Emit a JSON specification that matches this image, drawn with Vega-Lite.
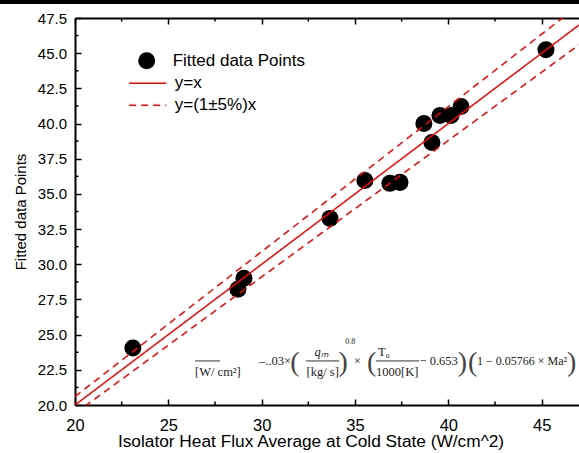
{
  "$schema": "https://vega.github.io/schema/vega-lite/v6.json",
  "width": 504,
  "height": 387,
  "autosize": {"type": "none"},
  "padding": {"left": 75, "top": 18, "right": 0, "bottom": 48},
  "background": "white",
  "config": {"view": {"stroke": null}, "font": "Liberation Sans", "axis": {"tickColor": "black", "domainColor": "black", "labelColor": "black", "titleColor": "black", "grid": false}},
  "datasets": {
    "points": [
      {"series": "Fitted data Points", "x": 23.1, "y": 24.05},
      {"series": "Fitted data Points", "x": 28.73, "y": 28.22},
      {"series": "Fitted data Points", "x": 29.05, "y": 29.0},
      {"series": "Fitted data Points", "x": 33.66, "y": 33.26},
      {"series": "Fitted data Points", "x": 35.53, "y": 35.96},
      {"series": "Fitted data Points", "x": 36.87, "y": 35.75},
      {"series": "Fitted data Points", "x": 37.41, "y": 35.82},
      {"series": "Fitted data Points", "x": 38.69, "y": 40.0},
      {"series": "Fitted data Points", "x": 39.12, "y": 38.65},
      {"series": "Fitted data Points", "x": 39.55, "y": 40.57},
      {"series": "Fitted data Points", "x": 40.14, "y": 40.57},
      {"series": "Fitted data Points", "x": 40.68, "y": 41.21},
      {"series": "Fitted data Points", "x": 45.23, "y": 45.25}
    ],
    "lines": [
      {"series": "y=x", "line": "center", "x": 20, "y": 20},
      {"series": "y=x", "line": "center", "x": 47, "y": 47},
      {"series": "y=(1±5%)x", "line": "upper", "x": 20, "y": 20.6},
      {"series": "y=(1±5%)x", "line": "upper", "x": 47, "y": 48.41},
      {"series": "y=(1±5%)x", "line": "lower", "x": 20, "y": 19.4},
      {"series": "y=(1±5%)x", "line": "lower", "x": 47, "y": 45.59}
    ],
    "xminor": [{"t": 22.5}, {"t": 27.5}, {"t": 32.5}, {"t": 37.5}, {"t": 42.5}],
    "yminor": [{"t": 21.25}, {"t": 23.75}, {"t": 26.25}, {"t": 28.75}, {"t": 31.25}, {"t": 33.75}, {"t": 36.25}, {"t": 38.75}, {"t": 41.25}, {"t": 43.75}, {"t": 46.25}],
    "one": [{}]
  },
  "resolve": {"axis": {"x": "independent", "y": "independent"}},
  "layer": [
    {
      "data": {"name": "points"},
      "mark": {"type": "point", "filled": true, "size": 290, "opacity": 1, "color": "black"},
      "encoding": {
        "x": {
          "field": "x", "type": "quantitative",
          "scale": {"domain": [20, 47], "nice": false, "zero": false},
          "axis": {
            "orient": "bottom",
            "values": [20, 25, 30, 35, 40, 45],
            "format": "d",
            "labelFontSize": 16.5, "labelPadding": 18.5,
            "labelFlush": false, "labelOverlap": false,
            "domainWidth": 2, "ticks": true, "tickSize": -6, "tickWidth": 1.5, "tickColor": "black",
            "title": "Isolator Heat Flux Average at Cold State (W/cm^2)",
            "titleFontSize": 17.3, "titleFontWeight": "normal",
            "titleX": 235.5, "titleY": 41.5, "titleAlign": "center", "titleBaseline": "alphabetic"
          }
        },
        "y": {
          "field": "y", "type": "quantitative",
          "scale": {"domain": [20, 47.5], "nice": false, "zero": false},
          "axis": {
            "orient": "left",
            "values": [20, 22.5, 25, 27.5, 30, 32.5, 35, 37.5, 40, 42.5, 45, 47.5],
            "format": ".1f",
            "labelFontSize": 15, "labelPadding": 14.5,
            "labelFlush": false, "labelOverlap": false,
            "domainWidth": 2, "ticks": true, "tickSize": -6, "tickWidth": 1.5, "tickColor": "black",
            "title": "Fitted data Points",
            "titleFontSize": 15, "titleFontWeight": "normal",
            "titleX": -55, "titleY": 193.5, "titleAlign": "center", "titleBaseline": "middle", "titleAngle": -90
          }
        },
        "shape": {
          "field": "series", "type": "nominal",
          "scale": {"domain": ["Fitted data Points"], "range": ["circle"]},
          "legend": {
            "orient": "none", "legendX": 63.2, "legendY": 34.2,
            "title": null, "padding": 0,
            "labelFontSize": 17, "labelFont": "Liberation Sans", "labelColor": "black",
            "symbolSize": 289, "symbolFillColor": "black", "symbolStrokeWidth": 0,
            "labelOffset": 17.5
          }
        }
      }
    },
    {
      "data": {"name": "lines"},
      "mark": {"type": "line", "strokeWidth": 1.5, "clip": true, "color": "red"},
      "encoding": {
        "x": {
          "field": "x", "type": "quantitative",
          "axis": {
            "orient": "top",
            "values": [20, 25, 30, 35, 40, 45],
            "labels": false, "title": null,
            "ticks": true, "tickSize": -6, "tickWidth": 1.5, "tickColor": "black",
            "domainWidth": 2
          }
        },
        "y": {"field": "y", "type": "quantitative", "axis": null},
        "detail": {"field": "line"},
        "strokeDash": {
          "field": "series", "type": "nominal",
          "scale": {"domain": ["y=x", "y=(1±5%)x"], "range": [[1, 0], [7, 5]]},
          "legend": {
            "orient": "none", "legendX": 63.2, "legendY": 55.8,
            "title": null, "padding": 0,
            "labelFontSize": 17, "labelFont": "Liberation Sans", "labelColor": "black",
            "symbolType": "M-2.18,0L2.18,0", "symbolSize": 289, "symbolStrokeColor": "red", "symbolFillColor": "transparent", "symbolStrokeWidth": 1.5,
            "rowPadding": 4, "labelOffset": 17.5
          }
        }
      }
    },
    {
      "data": {"name": "xminor"},
      "mark": {"type": "tick", "orient": "vertical", "color": "black", "size": 3.5, "thickness": 1.5, "opacity": 1},
      "encoding": {
        "x": {"field": "t", "type": "quantitative", "axis": null},
        "y": {"datum": 20.125, "type": "quantitative", "axis": null}
      }
    },
    {
      "data": {"name": "xminor"},
      "mark": {"type": "tick", "orient": "vertical", "color": "black", "size": 3.5, "thickness": 1.5, "opacity": 1},
      "encoding": {
        "x": {"field": "t", "type": "quantitative", "axis": null},
        "y": {"datum": 47.375, "type": "quantitative", "axis": null}
      }
    },
    {
      "data": {"name": "yminor"},
      "mark": {"type": "tick", "orient": "horizontal", "color": "black", "size": 3.5, "thickness": 1.5, "opacity": 1},
      "encoding": {
        "y": {"field": "t", "type": "quantitative", "axis": null},
        "x": {"datum": 20.094, "type": "quantitative", "axis": null}
      }
    },
    {
      "data": {"name": "one"},
      "mark": {"type": "rule", "clip": false, "color": "black", "strokeWidth": 4.5},
      "encoding": {
        "x": {"datum": 15.9, "type": "quantitative", "axis": null},
        "x2": {"datum": 47.3},
        "y": {"datum": 48.66, "type": "quantitative", "axis": null}
      }
    },
    {
      "data": {"name": "one"},
      "mark": {"type": "rule", "color": "#333", "strokeWidth": 1},
      "encoding": {
        "x": {"datum": 26.43, "type": "quantitative", "axis": null},
        "x2": {"datum": 27.77},
        "y": {"datum": 23.13, "type": "quantitative", "axis": null}
      }
    },
    {
      "data": {"name": "one"},
      "mark": {"type": "rule", "color": "#333", "strokeWidth": 1},
      "encoding": {
        "x": {"datum": 32.37, "type": "quantitative", "axis": null},
        "x2": {"datum": 34.16},
        "y": {"datum": 23.13, "type": "quantitative", "axis": null}
      }
    },
    {
      "data": {"name": "one"},
      "mark": {"type": "rule", "color": "#333", "strokeWidth": 1},
      "encoding": {
        "x": {"datum": 36.12, "type": "quantitative", "axis": null},
        "x2": {"datum": 38.43},
        "y": {"datum": 23.13, "type": "quantitative", "axis": null}
      }
    },
    {
      "data": {"name": "one"},
      "mark": {"type": "text", "text": "[W/ cm²]", "font": "Liberation Serif", "fontSize": 12.5, "color": "#222", "align": "left", "baseline": "middle"},
      "encoding": {"x": {"datum": 26.43, "type": "quantitative", "axis": null}, "y": {"datum": 22.33, "type": "quantitative", "axis": null}}
    },
    {
      "data": {"name": "one"},
      "mark": {"type": "text", "text": "–..03×", "font": "Liberation Serif", "fontSize": 12.5, "color": "#222", "align": "left", "baseline": "middle"},
      "encoding": {"x": {"datum": 29.86, "type": "quantitative", "axis": null}, "y": {"datum": 23.13, "type": "quantitative", "axis": null}}
    },
    {
      "data": {"name": "one"},
      "mark": {"type": "text", "text": "qₘ", "font": "Liberation Serif", "fontStyle": "italic", "fontSize": 12.5, "color": "#222", "align": "center", "baseline": "middle"},
      "encoding": {"x": {"datum": 33.21, "type": "quantitative", "axis": null}, "y": {"datum": 23.75, "type": "quantitative", "axis": null}}
    },
    {
      "data": {"name": "one"},
      "mark": {"type": "text", "text": "[kg/ s]", "font": "Liberation Serif", "fontSize": 12.5, "color": "#222", "align": "center", "baseline": "middle"},
      "encoding": {"x": {"datum": 33.27, "type": "quantitative", "axis": null}, "y": {"datum": 22.33, "type": "quantitative", "axis": null}}
    },
    {
      "data": {"name": "one"},
      "mark": {"type": "text", "text": "0.8", "font": "Liberation Serif", "fontSize": 8, "color": "#222", "align": "center", "baseline": "middle"},
      "encoding": {"x": {"datum": 34.75, "type": "quantitative", "axis": null}, "y": {"datum": 24.46, "type": "quantitative", "axis": null}}
    },
    {
      "data": {"name": "one"},
      "mark": {"type": "text", "text": "×", "font": "Liberation Serif", "fontSize": 12.5, "color": "#222", "align": "center", "baseline": "middle"},
      "encoding": {"x": {"datum": 35.12, "type": "quantitative", "axis": null}, "y": {"datum": 23.13, "type": "quantitative", "axis": null}}
    },
    {
      "data": {"name": "one"},
      "mark": {"type": "text", "text": "T₀", "font": "Liberation Serif", "fontSize": 12.5, "color": "#222", "align": "center", "baseline": "middle"},
      "encoding": {"x": {"datum": 36.55, "type": "quantitative", "axis": null}, "y": {"datum": 23.75, "type": "quantitative", "axis": null}}
    },
    {
      "data": {"name": "one"},
      "mark": {"type": "text", "text": "1000[K]", "font": "Liberation Serif", "fontSize": 12.5, "color": "#222", "align": "center", "baseline": "middle"},
      "encoding": {"x": {"datum": 37.26, "type": "quantitative", "axis": null}, "y": {"datum": 22.33, "type": "quantitative", "axis": null}}
    },
    {
      "data": {"name": "one"},
      "mark": {"type": "text", "text": "− 0.653", "font": "Liberation Serif", "fontSize": 12.5, "color": "#222", "align": "center", "baseline": "middle"},
      "encoding": {"x": {"datum": 39.48, "type": "quantitative", "axis": null}, "y": {"datum": 23.13, "type": "quantitative", "axis": null}}
    },
    {
      "data": {"name": "one"},
      "mark": {"type": "text", "text": "1 − 0.05766 × Ma²", "font": "Liberation Serif", "fontSize": 12, "color": "#222", "align": "center", "baseline": "middle"},
      "encoding": {"x": {"datum": 43.95, "type": "quantitative", "axis": null}, "y": {"datum": 23.13, "type": "quantitative", "axis": null}}
    },
    {
      "data": {"name": "one"},
      "mark": {"type": "text", "text": "(", "font": "Liberation Serif", "fontSize": 28, "color": "#444", "align": "center", "baseline": "middle"},
      "encoding": {"x": {"datum": 31.78, "type": "quantitative", "axis": null}, "y": {"datum": 23.0, "type": "quantitative", "axis": null}}
    },
    {
      "data": {"name": "one"},
      "mark": {"type": "text", "text": ")", "font": "Liberation Serif", "fontSize": 28, "color": "#444", "align": "center", "baseline": "middle"},
      "encoding": {"x": {"datum": 34.37, "type": "quantitative", "axis": null}, "y": {"datum": 23.0, "type": "quantitative", "axis": null}}
    },
    {
      "data": {"name": "one"},
      "mark": {"type": "text", "text": "(", "font": "Liberation Serif", "fontSize": 28, "color": "#444", "align": "center", "baseline": "middle"},
      "encoding": {"x": {"datum": 35.89, "type": "quantitative", "axis": null}, "y": {"datum": 23.0, "type": "quantitative", "axis": null}}
    },
    {
      "data": {"name": "one"},
      "mark": {"type": "text", "text": ")", "font": "Liberation Serif", "fontSize": 28, "color": "#444", "align": "center", "baseline": "middle"},
      "encoding": {"x": {"datum": 40.76, "type": "quantitative", "axis": null}, "y": {"datum": 23.0, "type": "quantitative", "axis": null}}
    },
    {
      "data": {"name": "one"},
      "mark": {"type": "text", "text": "(", "font": "Liberation Serif", "fontSize": 28, "color": "#444", "align": "center", "baseline": "middle"},
      "encoding": {"x": {"datum": 41.3, "type": "quantitative", "axis": null}, "y": {"datum": 23.0, "type": "quantitative", "axis": null}}
    },
    {
      "data": {"name": "one"},
      "mark": {"type": "text", "text": ")", "font": "Liberation Serif", "fontSize": 28, "color": "#444", "align": "center", "baseline": "middle"},
      "encoding": {"x": {"datum": 46.6, "type": "quantitative", "axis": null}, "y": {"datum": 23.0, "type": "quantitative", "axis": null}}
    }
  ]
}
